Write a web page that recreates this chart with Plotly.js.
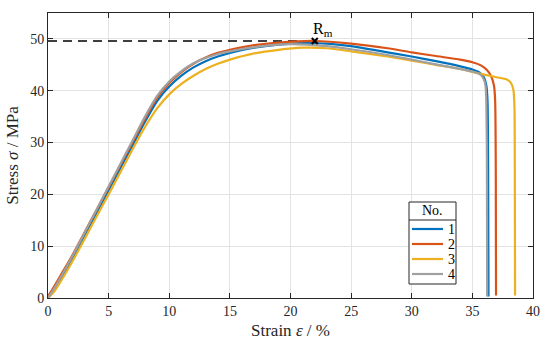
<!DOCTYPE html>
<html>
<head>
<meta charset="utf-8">
<script src="https://cdn.plot.ly/plotly-3.0.1.min.js"></script>
<style>html,body{margin:0;padding:0;background:#fff;}#chart{width:550px;height:343px;}</style>
</head>
<body>
<div id="chart"></div>
<script>
// Specimen names
const seriesNames = ['1', '2', '3', '4'];
const legendTitle = 'No.';
// Strain (%) and stress (MPa) for each specimen
const strain1 = [0, 0.5, 1, 2, 3, 4, 5, 6, 7, 8, 9, 10, 11, 12, 13, 14, 15, 17, 19, 21, 23, 25, 28, 30, 32, 34, 35, 35.6, 35.95, 36.15, 36.25, 36.3, 36.33];
const stress1 = [0, 1.5, 3.4, 7.6, 12, 16.4, 20.8, 25.2, 29.6, 34, 38, 40.8, 42.9, 44.5, 45.7, 46.6, 47.3, 48.3, 48.9, 49.2, 49.1, 48.6, 47.4, 46.6, 45.7, 44.7, 44.1, 43.5, 42.6, 41, 38, 25, 0.3];
const strain2 = [0, 0.5, 1, 2, 3, 4, 5, 6, 7, 8, 9, 10, 11, 12, 13, 14, 15, 17, 19, 22, 25, 28, 30, 32, 34, 35, 35.7, 36.2, 36.55, 36.78, 36.88, 36.93, 36.95];
const stress2 = [0.3, 2.2, 4.2, 8.2, 12.6, 17, 21.4, 25.8, 30.2, 34.6, 38.6, 41.5, 43.6, 45.2, 46.4, 47.3, 47.9, 48.8, 49.3, 49.6, 49.1, 48.2, 47.4, 46.7, 46, 45.5, 44.9, 44, 42.8, 41, 38, 25, 0.5];
const strain3 = [0, 0.5, 1, 2, 3, 4, 5, 6, 7, 8, 9, 10, 11, 12, 13, 14, 15, 17, 19, 21, 23, 25, 28, 30, 32, 34, 35.6, 37, 37.8, 38.15, 38.38, 38.47, 38.5, 38.52];
const stress3 = [0, 1.2, 3, 7, 11.3, 15.7, 20, 24.4, 28.8, 33, 36.6, 39.3, 41.3, 42.9, 44.2, 45.2, 46, 47.2, 47.9, 48.3, 48.2, 47.6, 46.6, 45.8, 45, 44.2, 43.3, 42.6, 42.2, 41.6, 40.2, 37, 25, 0.5];
const strain4 = [0, 0.5, 1, 2, 3, 4, 5, 6, 7, 8, 9, 10, 11, 12, 13, 14, 15, 17, 20, 23, 25, 28, 30, 32, 34, 35, 35.6, 35.9, 36.08, 36.15, 36.2, 36.22];
const stress4 = [0, 1.8, 3.8, 8, 12.5, 17, 21.5, 26, 30.5, 35, 39, 41.8, 43.8, 45.3, 46.3, 47.1, 47.6, 48.4, 49.0, 48.6, 48.0, 46.9, 46, 45.1, 44.2, 43.7, 43.2, 42.4, 41, 38, 25, 0.3];
// Tensile strength marker
const rmStrain = 22;
const rmStress = 49.6;
const xTicks = [0, 5, 10, 15, 20, 25, 30, 35, 40];
const yTicks = [0, 10, 20, 30, 40, 50];

const colors = ['#0072BD', '#D95319', '#EDB120', '#A0A0A0'];
const strains = [strain1, strain2, strain3, strain4];
const stresses = [stress1, stress2, stress3, stress4];
const font = 'Liberation Serif, Times New Roman, serif';

const W = 550, H = 343;
const M = {l: 48, r: 17, t: 13, b: 45};
const pw = W - M.l - M.r, ph = H - M.t - M.b;
const px = v => (v - M.l) / pw;   // pixel -> paper x
const py = v => (M.t + ph - v) / ph; // pixel -> paper y

const traces = [];
traces.push({
  x: [0, rmStrain], y: [rmStress, rmStress], mode: 'lines',
  line: {color: '#000', width: 1.5, dash: '9px,6px'}, showlegend: false, hoverinfo: 'skip'
});
for (let i = 0; i < 4; i++) {
  traces.push({
    x: strains[i], y: stresses[i], name: seriesNames[i], mode: 'lines', showlegend: false,
    line: {color: colors[i], width: 2.2, shape: 'spline', smoothing: 0.6}
  });
}
traces.push({
  x: [rmStrain], y: [rmStress], mode: 'markers', showlegend: false,
  marker: {symbol: 'x-thin', size: 6, line: {color: '#000', width: 2}}
});

// Legend box drawn with shapes and annotations
const shapes = [
  {type: 'rect', xref: 'paper', yref: 'paper', x0: px(409), x1: px(456), y0: py(284), y1: py(202),
   fillcolor: '#fff', line: {color: '#262626', width: 1}, layer: 'above'},
  {type: 'line', xref: 'paper', yref: 'paper', x0: px(409), x1: px(456), y0: py(220), y1: py(220),
   line: {color: '#262626', width: 1}, layer: 'above'}
];
const annotations = [
  {x: rmStrain, y: rmStress, xref: 'x', yref: 'y', text: 'R<sub>m</sub>',
   showarrow: false, xanchor: 'left', yanchor: 'bottom', yshift: -0.5, xshift: -4,
   font: {family: font, size: 16, color: '#000'}},
  {x: px(432.5), y: py(211), xref: 'paper', yref: 'paper', text: legendTitle, showarrow: false,
   xanchor: 'center', yanchor: 'middle', font: {family: font, size: 14, color: '#000'}}
];
const itemY = [229, 244, 259, 274];
for (let i = 0; i < seriesNames.length; i++) {
  shapes.push({type: 'line', xref: 'paper', yref: 'paper', x0: px(412), x1: px(443),
    y0: py(itemY[i]), y1: py(itemY[i]), line: {color: colors[i], width: 2.2}, layer: 'above'});
  annotations.push({x: px(446), y: py(itemY[i]), xref: 'paper', yref: 'paper', text: seriesNames[i],
    showarrow: false, xanchor: 'left', yanchor: 'middle', font: {family: font, size: 14, color: '#000'}});
}

const axisCommon = {
  showline: true, mirror: 'ticks', linecolor: '#262626', linewidth: 1,
  ticks: 'inside', ticklen: 5, tickcolor: '#262626', tickwidth: 1,
  showgrid: true, gridcolor: '#e3e3e3', gridwidth: 1, zeroline: false,
  tickfont: {family: font, size: 14, color: '#262626'}
};

const layout = {
  width: W, height: H,
  margin: M,
  paper_bgcolor: '#fff', plot_bgcolor: '#fff',
  font: {family: font, color: '#262626'},
  showlegend: false,
  xaxis: Object.assign({}, axisCommon, {
    range: [0, 40], tickvals: xTicks, ticktext: xTicks.map(String),
    title: {text: 'Strain <i>ε</i> / %', font: {family: font, size: 17, color: '#262626'}, standoff: 6}
  }),
  yaxis: Object.assign({}, axisCommon, {
    range: [0, 55], tickvals: yTicks, ticktext: yTicks.map(String),
    title: {text: 'Stress <i>σ</i> / MPa', font: {family: font, size: 17, color: '#262626'}, standoff: 7}
  }),
  annotations: annotations,
  shapes: shapes
};

Plotly.newPlot('chart', traces, layout, {displayModeBar: false, staticPlot: true});
</script>
</body>
</html>
